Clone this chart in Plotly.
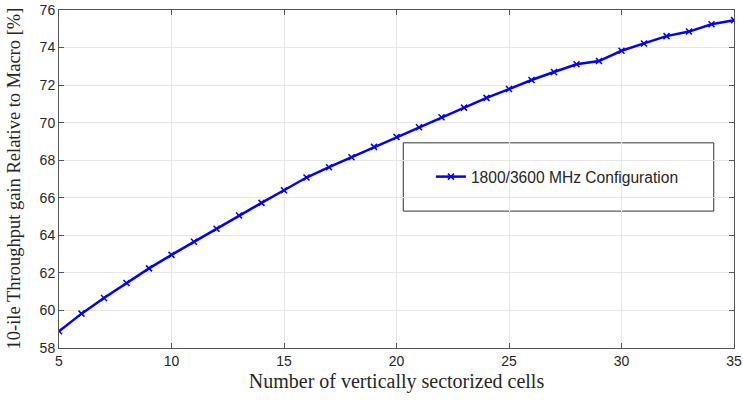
import plotly.graph_objects as go

cells = list(range(5, 36))
gain = [58.89, 59.83, 60.66, 61.46, 62.24, 62.96, 63.66, 64.35, 65.06, 65.73,
        66.40, 67.08, 67.63, 68.16, 68.71, 69.24, 69.76, 70.29, 70.80, 71.32,
        71.79, 72.27, 72.70, 73.11, 73.28, 73.83, 74.22, 74.61, 74.85, 75.24,
        75.46]
series_name = "1800/3600 MHz Configuration"
x_ticks = [5, 10, 15, 20, 25, 30, 35]
y_ticks = [58, 60, 62, 64, 66, 68, 70, 72, 74, 76]
y_title = "10-ile Throughput gain Relative to Macro [%]"
x_title = "Number of vertically sectorized cells"

fig = go.Figure()
fig.add_trace(go.Scatter(
    x=cells, y=gain, mode="lines+markers", name=series_name,
    line=dict(color="#0000ff", width=2.5),
    marker=dict(symbol="x-thin", size=6, color="#0000ff",
                line=dict(color="#0000ff", width=1.5)),
))

axis_common = dict(
    showgrid=True, gridcolor="#e6e6e6", gridwidth=1,
    showline=True, linecolor="#555555", linewidth=1, mirror="ticks",
    ticks="inside", ticklen=5, tickcolor="#555555",
    tickfont=dict(family="Arial, Liberation Sans", size=14, color="#262626"),
    zeroline=False, automargin=False,
)

fig.update_xaxes(range=[5, 35], tickvals=x_ticks, **axis_common,
                 title=dict(text=x_title,
                            font=dict(family="Times New Roman, Liberation Serif", size=20, color="#262626"),
                            standoff=6))
fig.update_yaxes(range=[58, 76], tickvals=y_ticks, **axis_common)

fig.add_annotation(text=y_title, xref="paper", yref="paper",
                   x=-0.066, y=0.503, xanchor="center", yanchor="middle",
                   textangle=-90, showarrow=False,
                   font=dict(family="Times New Roman, Liberation Serif", size=18.5, color="#262626"))

fig.add_shape(type="rect", xref="paper", yref="paper",
              x0=0.510, x1=0.970, y0=0.405, y1=0.607,
              line=dict(color="#333333", width=1), fillcolor="white", layer="below")

fig.update_layout(
    width=743, height=401,
    margin=dict(l=59, r=9, t=10, b=53),
    plot_bgcolor="rgba(0,0,0,0)", paper_bgcolor="white",
    showlegend=True,
    legend=dict(x=0.551, y=0.506, xanchor="left", yanchor="middle",
                bgcolor="rgba(0,0,0,0)", borderwidth=0,
                font=dict(family="Arial, Liberation Sans", size=15.6, color="#262626")),
)

fig.write_html("out.html")
